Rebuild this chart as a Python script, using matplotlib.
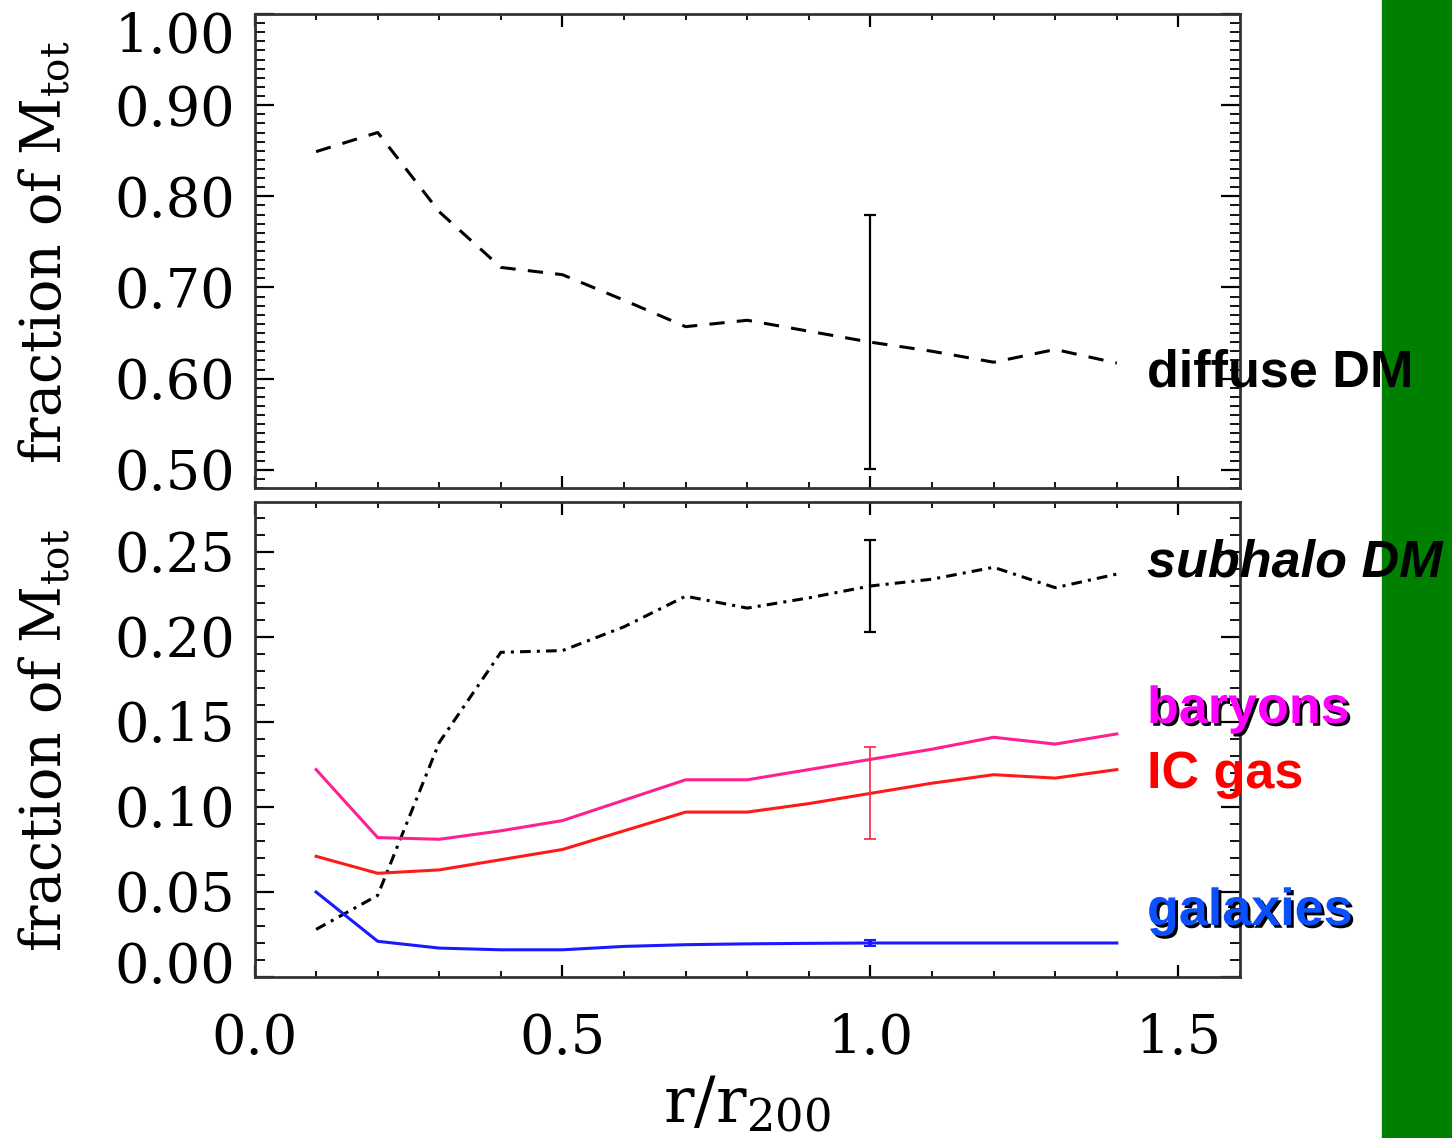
import matplotlib
matplotlib.use("Agg")
import matplotlib.pyplot as plt
import matplotlib.patheffects as pe
from matplotlib.patches import Rectangle
from matplotlib.ticker import MultipleLocator
from matplotlib.transforms import ScaledTranslation

# radius in units of r200
r = [0.1, 0.2, 0.3, 0.4, 0.5, 0.6, 0.7, 0.8, 0.9, 1.0, 1.1, 1.2, 1.3, 1.4]

diffuse_dm = [0.849, 0.870, 0.783, 0.722, 0.714, 0.686, 0.657, 0.664, 0.652,
              0.640, 0.630, 0.618, 0.632, 0.617]
subhalo_dm = [0.028, 0.048, 0.138, 0.191, 0.192, 0.206, 0.224, 0.217, 0.223,
              0.230, 0.234, 0.241, 0.229, 0.237]
baryons = [0.122, 0.082, 0.081, 0.086, 0.092, 0.104, 0.116, 0.116, 0.122,
           0.128, 0.134, 0.141, 0.137, 0.143]
ic_gas = [0.071, 0.061, 0.063, 0.069, 0.075, 0.086, 0.097, 0.097, 0.102,
          0.108, 0.114, 0.119, 0.117, 0.122]
galaxies = [0.050, 0.021, 0.017, 0.016, 0.016, 0.018, 0.019, 0.0195, 0.0198,
            0.020, 0.020, 0.020, 0.020, 0.020]

# error bars at r = r200
err_x = 1.0
diffuse_err = 0.139
subhalo_err = 0.027
gas_err = 0.027
gal_err = 0.002

plt.rcParams['font.family'] = 'DejaVu Serif'
plt.rcParams['mathtext.fontset'] = 'dejavuserif'

fig = plt.figure(figsize=(14.52, 11.38), dpi=100)
W, H = 1452.0, 1138.0
x0, x1 = 254.5, 1240.0
ax_top = fig.add_axes([x0 / W, 1 - 488 / H, (x1 - x0) / W, 474 / H])
ax_bot = fig.add_axes([x0 / W, 1 - 977 / H, (x1 - x0) / W, 475 / H])

lw = 2.2
ax_top.plot(r, diffuse_dm, color='black', lw=lw, dashes=(5, 4))
ax_top.errorbar([err_x], [diffuse_dm[9]], yerr=diffuse_err, color='black',
                lw=1.6, capsize=4, capthick=1.6)

ax_bot.plot(r, subhalo_dm, color='black', lw=lw, dashes=(3.5, 2, 1, 2))
ax_bot.errorbar([err_x], [subhalo_dm[9]], yerr=subhalo_err, color='black',
                lw=1.6, capsize=4, capthick=1.6)
ax_bot.plot(r, baryons, color='#ff2090', lw=lw)
ax_bot.plot(r, ic_gas, color='#ff1a1a', lw=lw)
ax_bot.errorbar([err_x], [ic_gas[9]], yerr=gas_err, color='#ff3050',
                lw=1.3, capsize=4, capthick=1.3)
ax_bot.plot(r, galaxies, color='#1a1aff', lw=lw)
ax_bot.errorbar([err_x], [galaxies[9]], yerr=gal_err, color='#1a1aff',
                lw=3, capsize=4, capthick=1.5)

ax_top.set_ylim(0.48, 1.00)
ax_bot.set_ylim(0.0, 0.2794)
top_ticks = [0.50, 0.60, 0.70, 0.80, 0.90, 1.00]
bot_ticks = [0.00, 0.05, 0.10, 0.15, 0.20, 0.25]
ax_top.set_yticks(top_ticks)
ax_top.set_yticklabels(['%.2f' % v for v in top_ticks])
ax_bot.set_yticks(bot_ticks)
ax_bot.set_yticklabels(['%.2f' % v for v in bot_ticks])
ax_top.yaxis.set_minor_locator(MultipleLocator(0.01))
ax_bot.yaxis.set_minor_locator(MultipleLocator(0.01))

for ax in (ax_top, ax_bot):
    ax.set_xlim(0, 1.60)
    ax.set_xticks([0.0, 0.5, 1.0, 1.5])
    ax.xaxis.set_minor_locator(MultipleLocator(0.1))
    for s in ax.spines.values():
        s.set_linewidth(2)
        s.set_color('#333333')
    ax.tick_params(axis='y', which='major', direction='in', length=14,
                   width=1.6, labelsize=39, pad=14, left=True, right=True)
    ax.tick_params(axis='y', which='minor', direction='in', length=7,
                   width=1.3, left=True, right=True)
    ax.tick_params(axis='x', which='major', direction='in', length=9,
                   width=1.6, labelsize=39, pad=26, top=True, bottom=True)
    ax.tick_params(axis='x', which='minor', direction='in', length=4,
                   width=1.3, top=True, bottom=True)

ax_top.tick_params(axis='x', labelbottom=False)
# edge labels pulled inside the frame
lab_top = ax_top.get_yticklabels()[-1]
lab_top.set_transform(lab_top.get_transform()
                      + ScaledTranslation(0, -19 / 100, fig.dpi_scale_trans))
lab_bot = ax_bot.get_yticklabels()[0]
lab_bot.set_transform(lab_bot.get_transform()
                      + ScaledTranslation(0, 15 / 100, fig.dpi_scale_trans))

ylab = r'fraction of $\mathrm{M_{tot}}$'
fig.text(46 / W, 1 - 252 / H, ylab, rotation=90, ha='center', va='center',
         fontsize=40)
fig.text(46 / W, 1 - 740 / H, ylab, rotation=90, ha='center', va='center',
         fontsize=40)
fig.text(747 / W, 1 - 1105 / H, r'$\mathrm{r/r_{200}}$', ha='center',
         va='center', fontsize=46)

# green strip on the right
fig.patches.append(Rectangle((1382 / W, 0), 1 - 1382 / W, 1,
                             transform=fig.transFigure, color='#008000',
                             zorder=0))

shadow = [pe.withSimplePatchShadow(offset=(2, -2), shadow_rgbFace='black',
                                   alpha=1.0)]
lab = dict(fontsize=37.5, fontweight='bold', family='Liberation Sans',
           ha='left', va='baseline')
fig.text(1147 / W, 1 - 387 / H, 'diffuse DM', color='black', **lab)
fig.text(1147 / W, 1 - 577 / H, 'subhalo DM', color='black',
         style='italic', **lab)
fig.text(1147 / W, 1 - 723 / H, 'baryons', color='#ff00ff',
         path_effects=shadow, **lab)
fig.text(1147 / W, 1 - 788 / H, 'IC gas', color='#ff0000', **lab)
fig.text(1147 / W, 1 - 925 / H, 'galaxies', color='#0a50ff',
         path_effects=shadow, **lab)

fig.savefig('out.png', dpi=100)
